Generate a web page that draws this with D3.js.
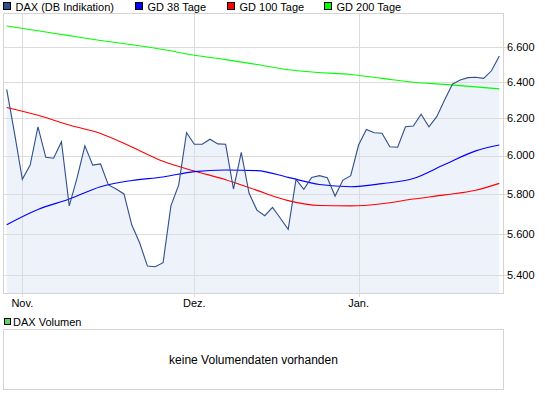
<!DOCTYPE html>
<html>
<head>
<meta charset="utf-8">
<script src="https://cdn.jsdelivr.net/npm/d3@7"></script>
<style>
  body { margin: 0; background: #fff; }
  svg { display: block; font-family: "Liberation Sans", Arial, sans-serif; }
</style>
</head>
<body>
<div id="chart"></div>
<script>
// trading days shown on the chart (Xetra)
var dates = [
  "2011-10-28","2011-10-31",
  "2011-11-01","2011-11-02","2011-11-03","2011-11-04","2011-11-07","2011-11-08","2011-11-09","2011-11-10","2011-11-11",
  "2011-11-14","2011-11-15","2011-11-16","2011-11-17","2011-11-18","2011-11-21","2011-11-22","2011-11-23","2011-11-24",
  "2011-11-25","2011-11-28","2011-11-29","2011-11-30",
  "2011-12-01","2011-12-02","2011-12-05","2011-12-06","2011-12-07","2011-12-08","2011-12-09","2011-12-12","2011-12-13",
  "2011-12-14","2011-12-15","2011-12-16","2011-12-19","2011-12-20","2011-12-21","2011-12-22","2011-12-23","2011-12-27",
  "2011-12-28","2011-12-29","2011-12-30",
  "2012-01-02","2012-01-03","2012-01-04","2012-01-05","2012-01-06","2012-01-09","2012-01-10","2012-01-11","2012-01-12",
  "2012-01-13","2012-01-16","2012-01-17","2012-01-18","2012-01-19","2012-01-20","2012-01-23","2012-01-24","2012-01-25",
  "2012-01-26"
];

var dax = [6360,6120,5876,5950,6154,5991,5986,6074,5740,5883,
           6052,5950,5956,5847,5826,5801,5644,5557,5444,5441,
           5460,5740,5847,6122,6060,6060,6087,6062,6060,5826,
           6017,5804,5719,5691,5733,5678,5623,5876,5825,5886,
           5895,5884,5790,5872,5895,6056,6140,6122,6119,6047,
           6044,6154,6158,6222,6154,6209,6301,6389,6413,6426,
           6428,6422,6465,6550];

// moving averages, read every 4th trading day
var maIdx = [0,4,8,12,16,20,24,28,32,36,40,44,48,52,56,60,63];
var gd38  = [5646,5722,5775,5838,5870,5888,5916,5924,5921,5886,5849,5838,5854,5880,5953,6025,6056];
var gd100 = [6260,6217,6164,6118,6046,5970,5919,5874,5819,5767,5742,5740,5751,5775,5796,5820,5855];
var gd200 = [6725,6697,6668,6640,6615,6587,6554,6529,6501,6471,6455,6444,6422,6400,6388,6374,6363];

var monthTicks = ["2011-11-01","2011-12-01","2012-01-02"];
var monthLabels = ["Nov.","Dez.","Jan."];
var yTicks = [5400,5600,5800,6000,6200,6400,6600];

var legendNames = ["DAX (DB Indikation)","GD 38 Tage","GD 100 Tage","GD 200 Tage"];
var legendColors = ["#2f4f8c","#0000ff","#ff0000","#00ff00"];

var width = 545, height = 398;
var plot = {left: 3.5, right: 503.5, top: 13.5, bottom: 293.5};
var vol = {top: 329.5, bottom: 389.5};

var de = d3.formatLocale({decimal: ",", thousands: ".", grouping: [3], currency: ["", " €"]});
var fmt = de.format(",d");

var svg = d3.select("#chart").append("svg")
    .attr("width", width)
    .attr("height", height);

var x = d3.scalePoint().domain(dates).range([6.7, 499.3]);
var y = d3.scaleLog().domain([5400, 6600]).range([275.3, 47.3]);

// area under DAX
var area = d3.area()
    .x(function(d, i) { return x(dates[i]); })
    .y0(plot.bottom)
    .y1(function(d) { return y(d); });

svg.append("path")
    .datum(dax)
    .attr("d", area)
    .attr("fill", "#eef2fa");

// grid
var grid = svg.append("g").attr("shape-rendering", "crispEdges");
grid.selectAll("line.h")
    .data(yTicks)
  .enter().append("line")
    .attr("x1", plot.left).attr("x2", plot.right + 3)
    .attr("y1", function(d) { return Math.round(y(d)) + 0.5; })
    .attr("y2", function(d) { return Math.round(y(d)) + 0.5; })
    .attr("stroke", "#dcdcdc");

grid.selectAll("line.v")
    .data(monthTicks)
  .enter().append("line")
    .attr("x1", function(d) { return Math.round(x(d)) + 0.5; })
    .attr("x2", function(d) { return Math.round(x(d)) + 0.5; })
    .attr("y1", plot.top).attr("y2", plot.bottom + 3)
    .attr("stroke", "#dcdcdc");

svg.append("rect")
    .attr("x", plot.left).attr("y", plot.top)
    .attr("width", plot.right - plot.left).attr("height", plot.bottom - plot.top)
    .attr("fill", "none").attr("stroke", "#d4d4d4")
    .attr("shape-rendering", "crispEdges");

// lines
var maLine = d3.line()
    .x(function(d, i) { return x(dates[maIdx[i]]); })
    .y(function(d) { return y(d); })
    .curve(d3.curveMonotoneX);

var daxLine = d3.line()
    .x(function(d, i) { return x(dates[i]); })
    .y(function(d) { return y(d); });

[[gd200, "#00ff00"], [gd100, "#ff0000"], [gd38, "#0000ff"]].forEach(function(s) {
  svg.append("path")
      .datum(s[0])
      .attr("d", maLine)
      .attr("fill", "none")
      .attr("stroke", s[1])
      .attr("stroke-width", 1.1);
});

svg.append("path")
    .datum(dax)
    .attr("d", daxLine)
    .attr("fill", "none")
    .attr("stroke", legendColors[0])
    .attr("stroke-width", 1.1);

// axis labels
svg.selectAll("text.y")
    .data(yTicks)
  .enter().append("text")
    .attr("x", 507)
    .attr("y", function(d) { return y(d); })
    .attr("dy", "0.35em")
    .attr("font-size", 11)
    .text(function(d) { return fmt(d); });

svg.selectAll("text.x")
    .data(monthTicks)
  .enter().append("text")
    .attr("x", function(d) { return x(d); })
    .attr("y", 307)
    .attr("text-anchor", "middle")
    .attr("font-size", 11)
    .text(function(d, i) { return monthLabels[i]; });

// legend
var legX = [3.5, 135.5, 227.5, 324.5];
var leg = svg.selectAll("g.leg")
    .data(legendNames)
  .enter().append("g")
    .attr("transform", function(d, i) { return "translate(" + legX[i] + ",0)"; });
leg.append("rect")
    .attr("x", 0).attr("y", 2.5).attr("width", 7).attr("height", 7)
    .attr("fill", function(d, i) { return legendColors[i]; })
    .attr("stroke", "#000").attr("shape-rendering", "crispEdges");
leg.append("text")
    .attr("x", 12).attr("y", 10.5)
    .attr("font-size", 11)
    .text(function(d) { return d; });

// volume panel
svg.append("rect")
    .attr("x", 4.5).attr("y", 318.5).attr("width", 6).attr("height", 6)
    .attr("fill", "#66cc66").attr("stroke", "#000").attr("shape-rendering", "crispEdges");
svg.append("text")
    .attr("x", 13).attr("y", 325.5)
    .attr("font-size", 11)
    .text("DAX Volumen");

svg.append("rect")
    .attr("x", plot.left).attr("y", vol.top)
    .attr("width", plot.right - plot.left).attr("height", vol.bottom - vol.top)
    .attr("fill", "none").attr("stroke", "#d4d4d4")
    .attr("shape-rendering", "crispEdges");

svg.append("text")
    .attr("x", (plot.left + plot.right) / 2)
    .attr("y", (vol.top + vol.bottom) / 2)
    .attr("dy", "0.35em")
    .attr("text-anchor", "middle")
    .attr("font-size", 12)
    .text("keine Volumendaten vorhanden");
</script>
</body>
</html>
